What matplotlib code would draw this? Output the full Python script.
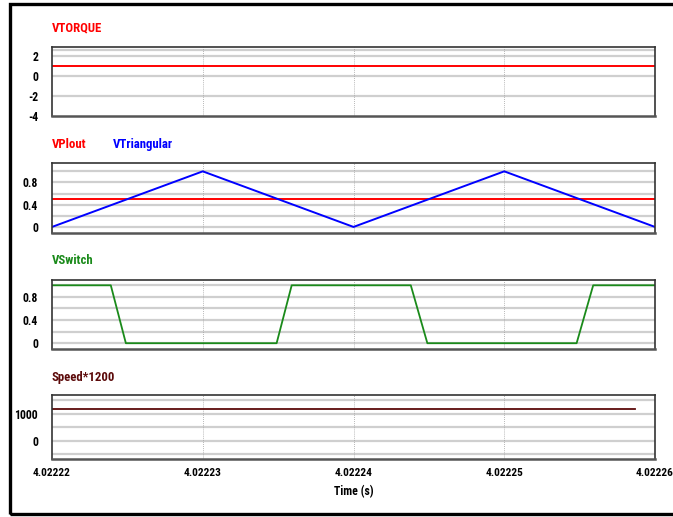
import matplotlib.pyplot as plt
from matplotlib.patches import Rectangle

plt.rcParams['font.family'] = ['Roboto Condensed', 'PT Sans Narrow', 'Liberation Sans']
plt.rcParams['font.weight'] = 'bold'

W, H = 673, 517

# time axis
t_ticks = [4.02222, 4.02223, 4.02224, 4.02225, 4.02226]
t_labels = ["4.02222", "4.02223", "4.02224", "4.02225", "4.02226"]

# VTORQUE
torque_t = [4.02222, 4.02226]
torque_v = [1.0, 1.0]

# VPlout / VTriangular
plout_t = [4.02222, 4.02226]
plout_v = [0.5, 0.5]
tri_t = [4.02222, 4.02223, 4.02224, 4.02225, 4.02226]
tri_v = [0.0, 1.0, 0.0, 1.0, 0.0]

# VSwitch
sw_t = [4.02222, 4.0222239, 4.0222249, 4.0222349, 4.0222359,
        4.0222438, 4.0222449, 4.0222548, 4.0222559, 4.02226]
sw_v = [1, 1, 0, 0, 1, 1, 0, 0, 1, 1]

# Speed*1200
speed_t = [4.02222, 4.0222587]
speed_v = [1160, 1160]


def px(x, y):
    return x / W, 1 - y / H


fig = plt.figure(figsize=(W / 100, H / 100), dpi=100)

# outer frame
fig.patches.append(Rectangle((10 / W, 1 - 514 / H), 700 / W, 510 / H,
                             transform=fig.transFigure, fill=False,
                             edgecolor='black', linewidth=2.4))


def make_panel(top, bottom, ylim, yticks, ytlabels, grid_y):
    l, b = px(52, bottom)
    ax = fig.add_axes([l, b, (655 - 52) / W, (bottom - top) / H])
    ax.set_xlim(t_ticks[0], t_ticks[-1])
    ax.set_ylim(*ylim)
    for g in grid_y:
        ax.axhline(g, color='#cfcfcf', lw=1.6, zorder=0)
    for t in t_ticks[1:-1]:
        ax.axvline(t, color='#a0a0a0', lw=0.6, ls=(0, (1, 1.5)), zorder=0)
    ax.set_yticks(yticks)
    ax.set_yticklabels(ytlabels, fontsize=8.5, fontweight='bold')
    ax.set_xticks(t_ticks)
    ax.set_xticklabels([])
    ax.tick_params(length=0, pad=10)
    for s in ax.spines.values():
        s.set_color('#333333')
        s.set_linewidth(1.2)
    ax.spines['bottom'].set_color('#555555')
    ax.spines['bottom'].set_linewidth(1.8)
    return ax


ax1 = make_panel(47, 116, (-4, 2.85), [-4, -2, 0, 2], ['-4', '-2', '0', '2'],
                 [-2, 0, 2, 2.6])
ax1.plot(torque_t, torque_v, color='#ff0000', lw=1.4)

ax2 = make_panel(163, 232.5, (-0.1, 1.15), [0, 0.4, 0.8], ['0', '0.4', '0.8'],
                 [0, 0.2, 0.4, 0.6, 0.8, 1.0])
ax2.plot(plout_t, plout_v, color='#ff0000', lw=1.4)
ax2.plot(tri_t, tri_v, color='#0000ff', lw=1.4)

ax3 = make_panel(279.5, 349, (-0.1, 1.1), [0, 0.4, 0.8], ['0', '0.4', '0.8'],
                 [0, 0.2, 0.4, 0.6, 0.8, 1.0])
ax3.plot(sw_t, sw_v, color='#1a8a1a', lw=1.3)

ax4 = make_panel(395, 458.5, (-650, 1680), [0, 1000], ['0', '1000'],
                 [-500, 0, 500, 1000, 1500])
ax4.plot(speed_t, speed_v, color='#5c0a0a', lw=1.3)
ax4.set_xticklabels(t_labels, fontsize=8.2, fontweight='bold')
ax4.tick_params(axis='x', pad=7)
ax4.set_xlabel('Time (s)', fontsize=8.5, fontweight='bold', labelpad=5)

# panel captions
fig.text(*px(52, 28), 'VTORQUE', color='#ff0000', fontsize=9.2,
         fontweight='bold', va='center')
fig.text(*px(52, 145), 'VPlout', color='#ff0000', fontsize=9.2,
         fontweight='bold', va='center')
fig.text(*px(113, 145), 'VTriangular', color='#0000ff', fontsize=9.2,
         fontweight='bold', va='center')
fig.text(*px(52, 261), 'VSwitch', color='#1a8a1a', fontsize=9.2,
         fontweight='bold', va='center')
fig.text(*px(52, 378), 'Speed*1200', color='#5c0a0a', fontsize=9.2,
         fontweight='bold', va='center')

fig.savefig('out.png', dpi=100)
